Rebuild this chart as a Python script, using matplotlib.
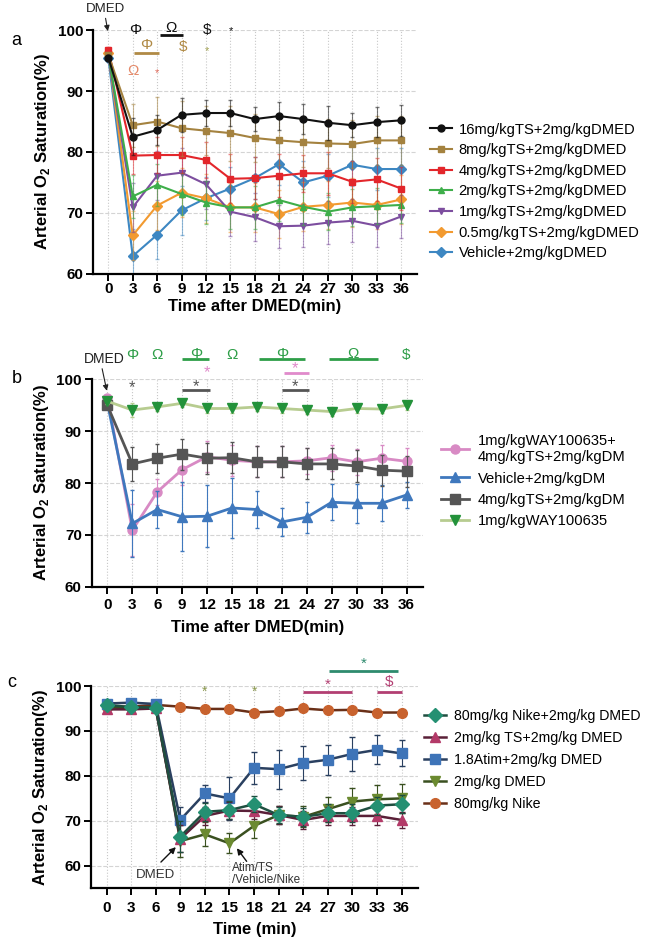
import matplotlib
matplotlib.use('Agg')
import matplotlib.pyplot as plt
import numpy as np

plt.rcParams['font.family'] = ['Liberation Sans', 'DejaVu Sans']
plt.rcParams['mathtext.fontset'] = 'custom'
plt.rcParams['mathtext.rm'] = 'Liberation Sans'
plt.rcParams['mathtext.bf'] = 'Liberation Sans:bold'

# ---- data ----
t = [0, 3, 6, 9, 12, 15, 18, 21, 24, 27, 30, 33, 36]

# panel a
a_labels = ['16mg/kgTS+2mg/kgDMED', '8mg/kgTS+2mg/kgDMED', '4mg/kgTS+2mg/kgDMED',
            '2mg/kgTS+2mg/kgDMED', '1mg/kgTS+2mg/kgDMED', '0.5mg/kgTS+2mg/kgDMED',
            'Vehicle+2mg/kgDMED']
a_16 = [95.5, 82.5, 83.6, 86.1, 86.4, 86.4, 85.4, 85.9, 85.4, 84.8, 84.4, 84.9, 85.2]
a_8 = [96.0, 84.4, 85.0, 83.9, 83.5, 83.1, 82.3, 81.9, 81.6, 81.4, 81.3, 81.9, 81.9]
a_4 = [96.7, 79.4, 79.5, 79.5, 78.7, 75.6, 75.7, 76.1, 76.5, 76.5, 75.1, 75.5, 74.0]
a_2 = [96.0, 72.7, 74.6, 73.1, 71.7, 70.9, 70.9, 72.1, 71.0, 70.2, 70.9, 71.1, 71.3]
a_1 = [95.8, 70.9, 76.1, 76.6, 74.7, 70.2, 69.3, 67.8, 67.9, 68.4, 68.7, 67.9, 69.4]
a_05 = [96.2, 66.3, 71.2, 73.3, 72.4, 70.9, 70.9, 69.8, 71.0, 71.3, 71.7, 71.3, 72.2]
a_veh = [95.5, 62.9, 66.4, 70.4, 72.4, 74.0, 75.7, 78.0, 75.0, 76.1, 77.9, 77.2, 77.2]
a_16_err = [0.5, 3.0, 2.5, 2.8, 2.2, 2.2, 2.0, 2.3, 2.5, 2.8, 2.0, 2.5, 2.5]
a_8_err = [0.5, 3.5, 4.0, 4.5, 4.0, 4.5, 4.0, 4.0, 4.0, 4.0, 4.0, 4.0, 4.0]
a_4_err = [0.5, 3.0, 3.0, 3.0, 3.0, 4.0, 3.5, 3.5, 3.0, 3.5, 3.5, 3.5, 3.5]
a_2_err = [0.5, 3.5, 3.5, 3.5, 3.5, 3.5, 3.5, 3.5, 3.0, 3.0, 3.0, 3.0, 3.0]
a_1_err = [0.5, 4.0, 4.0, 4.0, 4.0, 4.0, 4.0, 3.5, 3.5, 3.5, 3.5, 3.5, 3.5]
a_05_err = [0.5, 4.0, 4.0, 4.0, 4.0, 4.0, 4.0, 4.0, 4.0, 4.0, 4.0, 4.0, 4.0]
a_veh_err = [0.5, 4.5, 4.0, 4.0, 3.5, 3.5, 3.5, 3.5, 3.5, 3.5, 3.5, 3.5, 3.5]

# panel b
b_labels = ['1mg/kgWAY100635+\n4mg/kgTS+2mg/kgDM', 'Vehicle+2mg/kgDM',
            '4mg/kgTS+2mg/kgDM', '1mg/kgWAY100635']
b_way_ts = [96.5, 70.9, 78.3, 82.6, 85.1, 84.4, 84.1, 84.1, 84.3, 84.9, 84.1, 84.8, 84.2]
b_veh = [95.5, 72.2, 74.9, 73.5, 73.6, 75.2, 74.9, 72.5, 73.4, 76.3, 76.1, 76.1, 77.7]
b_ts = [95.0, 83.7, 84.8, 85.6, 84.8, 84.9, 84.1, 84.1, 83.7, 83.7, 83.3, 82.5, 82.3]
b_way = [95.8, 94.1, 94.7, 95.4, 94.4, 94.4, 94.7, 94.4, 94.1, 93.8, 94.4, 94.3, 95.0]
b_way_ts_err = [0.5, 5.0, 2.5, 3.0, 3.0, 3.0, 3.0, 3.0, 2.5, 2.5, 2.5, 2.5, 2.5]
b_veh_err = [0.5, 6.5, 3.5, 6.7, 6.0, 5.8, 3.5, 2.7, 3.0, 3.5, 3.8, 3.5, 2.5]
b_ts_err = [0.5, 3.2, 2.8, 3.0, 3.0, 3.0, 3.0, 3.0, 3.0, 3.0, 3.0, 3.0, 3.0]
b_way_err = [0.5, 1.3, 0.8, 0.8, 0.8, 0.8, 0.8, 0.8, 0.8, 0.8, 0.8, 0.8, 0.8]

# panel c
c_labels = ['80mg/kg Nike+2mg/kg DMED', '2mg/kg TS+2mg/kg DMED', '1.8Atim+2mg/kg DMED',
            '2mg/kg DMED', '80mg/kg Nike']
c_nike_dm = [95.8, 95.3, 95.2, 66.5, 72.0, 72.4, 73.7, 71.3, 70.9, 71.7, 71.7, 73.4, 73.7]
c_ts = [94.8, 94.8, 95.0, 66.0, 71.1, 72.3, 72.2, 71.3, 70.2, 71.1, 71.1, 71.1, 70.2]
c_atim = [96.1, 96.3, 96.0, 70.2, 76.1, 75.0, 81.8, 81.5, 82.9, 83.6, 84.9, 85.8, 85.0]
c_dm = [95.3, 95.0, 95.4, 65.5, 67.0, 65.0, 68.9, 71.3, 70.9, 72.6, 74.3, 74.8, 75.0]
c_nike = [95.4, 95.4, 95.8, 95.4, 94.9, 94.9, 94.1, 94.4, 95.0, 94.6, 94.7, 94.1, 94.1]
c_nike_dm_err = [0.5, 0.5, 0.5, 3.5, 2.0, 2.0, 1.8, 1.8, 2.0, 2.0, 2.0, 2.0, 2.0]
c_ts_err = [0.5, 0.5, 0.5, 3.0, 2.0, 1.8, 1.8, 2.0, 2.0, 2.0, 2.0, 2.0, 1.8]
c_atim_err = [0.3, 0.3, 0.3, 2.8, 1.8, 4.8, 3.5, 4.3, 3.7, 3.3, 3.8, 3.2, 2.9]
c_dm_err = [0.5, 0.5, 0.5, 3.5, 2.7, 2.2, 2.8, 2.0, 2.3, 2.8, 3.0, 3.2, 3.3]
c_nike_err = [0.3, 0.3, 0.3, 0.3, 0.3, 0.3, 0.3, 0.3, 0.3, 0.3, 0.3, 0.3, 0.3]

fig = plt.figure(figsize=(6.45, 9.44), dpi=100)


def style_axis(ax, xlabel, ymin=60, xpad=2, lpad=3):
    ax.set_xlim(-1.9, 38)
    ax.set_ylim(ymin, 100)
    ax.set_xticks(t)
    ax.set_yticks([60, 70, 80, 90, 100])
    for s in ['top', 'right']:
        ax.spines[s].set_visible(False)
    for s in ['left', 'bottom']:
        ax.spines[s].set_linewidth(1.6)
    ax.tick_params(width=1.4, length=5, labelsize=11, pad=2)
    ax.tick_params(axis='x', pad=xpad)
    for lab in ax.get_xticklabels() + ax.get_yticklabels():
        lab.set_fontweight('bold')
    ax.xaxis.grid(True, linestyle=':', color='#c8c8c8', linewidth=0.8)
    ax.yaxis.grid(True, linestyle='--', color='#d4d4d4', linewidth=0.8)
    ax.set_axisbelow(True)
    ax.set_ylabel(r'Arterial O$_\mathbf{2}$ Saturation(%)', fontsize=12, fontweight='bold', labelpad=4)
    ax.set_xlabel(xlabel, fontsize=12, fontweight='bold', labelpad=lpad)


def draw(ax, y, e, lc, mc, m, ms, lw, lab, ealpha=1.0, cap=1.5):
    ax.errorbar(t, y, yerr=e, fmt='none', ecolor=lc, elinewidth=0.8, capsize=cap, alpha=ealpha)
    ax.plot(t, y, color=lc, marker=m, ms=ms, mfc=mc, mec=mc, lw=lw, label=lab)


def txt(ax, x, y, s, c, size=10, **kw):
    ax.text(x, y, s, color=c, fontsize=size, ha='center', va='center', clip_on=False, **kw)


def bar(ax, x0, x1, y, c):
    ax.plot([x0, x1], [y, y], color=c, lw=2, clip_on=False, solid_capstyle='butt')


# ---- panel a ----
ax1 = fig.add_axes([0.144, 0.710, 0.503, 0.258])
a_series = [(a_16, a_16_err, '#111111', 'o'), (a_8, a_8_err, '#A4823F', 's'),
            (a_4, a_4_err, '#E3262B', 's'), (a_2, a_2_err, '#3EAE4A', '^'),
            (a_1, a_1_err, '#7D4E9F', 'v'), (a_05, a_05_err, '#F29A30', 'D'),
            (a_veh, a_veh_err, '#3D87C2', 'D')]
for (y, e, c, m), lab in zip(a_series[::-1], a_labels[::-1]):
    draw(ax1, y, e, c, c, m, 5, 1.5, lab, ealpha=0.55)
style_axis(ax1, 'Time after DMED(min)', xpad=1, lpad=2)
h, l = ax1.get_legend_handles_labels()
ax1.legend(h[::-1], l[::-1], loc='upper left', bbox_to_anchor=(0.655, 0.878),
           bbox_transform=fig.transFigure, frameon=False, fontsize=10.6,
           handlelength=1.5, handletextpad=0.45, labelspacing=0.45, borderpad=0)
# significance marks
txt(ax1, 3.3, 100, 'Φ', '#111111', 11)
txt(ax1, 7.7, 100.3, 'Ω', '#111111', 11)
bar(ax1, 6.3, 9.2, 99.2, '#111111')
txt(ax1, 12.1, 100, '$', '#111111', 11)
txt(ax1, 15.1, 99.8, '*', '#111111', 8)
txt(ax1, 4.7, 97.5, 'Φ', '#B08A45', 11)
bar(ax1, 3.2, 6.2, 96.2, '#B08A45')
txt(ax1, 9.2, 97.3, '$', '#B08A45', 11)
txt(ax1, 12.1, 96.6, '*', '#A0A050', 8)
txt(ax1, 3.0, 93.3, 'Ω', '#E48A6A', 11)
txt(ax1, 6.0, 93.0, '*', '#E06A5A', 8)
txt(ax1, -0.3, 103.5, 'DMED', '#222222', 9.5)
ax1.annotate('', xy=(0, 99.4), xytext=(-0.4, 102.4), annotation_clip=False,
             arrowprops=dict(arrowstyle='-|>', color='#222222', lw=0.8, mutation_scale=8))
fig.text(0.018, 0.952, 'a', fontsize=13)

# ---- panel b ----
ax2 = fig.add_axes([0.142, 0.3785, 0.514, 0.2195])
b_series = [(b_way_ts, b_way_ts_err, '#D88AC4', '#D88AC4', 'o'),
            (b_veh, b_veh_err, '#3F78BD', '#3F78BD', '^'),
            (b_ts, b_ts_err, '#555555', '#555555', 's'),
            (b_way, b_way_err, '#B7CC90', '#23923A', 'v')]
for (y, e, lc, mc, m), lab in zip(b_series, b_labels):
    draw(ax2, y, e, lc, mc, m, 6.5, 2, lab)
style_axis(ax2, 'Time after DMED(min)', xpad=3, lpad=6)
ax2.legend(loc='upper left', bbox_to_anchor=(0.672, 0.548), bbox_transform=fig.transFigure,
           frameon=False, fontsize=10.6, handlelength=1.9, handletextpad=0.6,
           labelspacing=0.5, borderpad=0)
g = '#2E9E48'
txt(ax2, 3, 104.7, 'Φ', g, 11)
txt(ax2, 6, 104.7, 'Ω', g, 11)
txt(ax2, 10.7, 104.9, 'Φ', g, 11)
bar(ax2, 9, 12.2, 103.9, g)
txt(ax2, 15, 104.7, 'Ω', g, 11)
txt(ax2, 21, 104.9, 'Φ', g, 11)
bar(ax2, 18.2, 23.8, 103.9, g)
txt(ax2, 29.6, 104.9, 'Ω', g, 11)
bar(ax2, 26.7, 32.6, 103.9, g)
txt(ax2, 36, 104.7, '$', g, 11)
pk = '#E08ACB'
txt(ax2, 12, 101.4, '*', pk, 12)
txt(ax2, 22.6, 102.1, '*', pk, 12)
bar(ax2, 21.2, 24.3, 101.2, pk)
gr = '#555555'
txt(ax2, 3, 98.4, '*', gr, 12)
txt(ax2, 10.7, 98.7, '*', gr, 12)
bar(ax2, 9, 12.3, 97.9, gr)
txt(ax2, 22.6, 98.7, '*', gr, 12)
bar(ax2, 21, 24.3, 97.9, gr)
txt(ax2, -0.4, 103.9, 'DMED', '#222222', 10)
ax2.annotate('', xy=(0, 97.3), xytext=(-0.7, 102.6), annotation_clip=False,
             arrowprops=dict(arrowstyle='-|>', color='#222222', lw=0.8, mutation_scale=8))
fig.text(0.018, 0.594, 'b', fontsize=13)

# ---- panel c ----
ax3 = fig.add_axes([0.141, 0.059, 0.507, 0.2143])
c_series = [(c_nike_dm, c_nike_dm_err, '#1F4F40', '#249072', 'D'),
            (c_ts, c_ts_err, '#5A2038', '#B33A68', '^'),
            (c_atim, c_atim_err, '#2A4060', '#3E74B8', 's'),
            (c_dm, c_dm_err, '#3A5020', '#6B8A30', 'v'),
            (c_nike, c_nike_err, '#6A3018', '#C8622E', 'o')]
for (y, e, lc, mc, m), lab in zip(c_series[::-1], c_labels[::-1]):
    draw(ax3, y, e, lc, mc, m, 7, 1.8, lab, cap=2)
style_axis(ax3, 'Time (min)', ymin=55, xpad=4, lpad=5)
h, l = ax3.get_legend_handles_labels()
ax3.legend(h[::-1], l[::-1], loc='upper left', bbox_to_anchor=(0.646, 0.256),
           bbox_transform=fig.transFigure, frameon=False, fontsize=10.2,
           handlelength=1.6, handletextpad=0.5, labelspacing=0.55, borderpad=0)
ol = '#8C9A50'
txt(ax3, 12, 98.7, '*', ol, 10)
txt(ax3, 18, 98.7, '*', ol, 10)
pm = '#B23F72'
bar(ax3, 24, 30, 98.7, pm)
txt(ax3, 27, 100.2, '*', pm, 11)
bar(ax3, 33, 36, 98.7, pm)
txt(ax3, 34.5, 101.0, '$', pm, 11)
tl = '#2E8B6E'
bar(ax3, 27.2, 35.6, 103.4, tl)
txt(ax3, 31.4, 105.0, '*', tl, 11)
txt(ax3, 6.0, 57.9, 'DMED', '#333333', 9.5)
ax3.annotate('', xy=(8.7, 64.6), xytext=(6.4, 60.4), annotation_clip=False,
             arrowprops=dict(arrowstyle='-|>', color='#111111', lw=1, mutation_scale=9))
ax3.text(15.3, 58.2, 'Atim/TS\n/Vehicle/Nike', fontsize=8.5, color='#333333',
         ha='left', va='center', linespacing=1.05, clip_on=False)
ax3.annotate('', xy=(15.7, 64.4), xytext=(17.3, 60.5), annotation_clip=False,
             arrowprops=dict(arrowstyle='-|>', color='#111111', lw=1, mutation_scale=9))
fig.text(0.012, 0.272, 'c', fontsize=13)

fig.savefig('out.png', dpi=100)
